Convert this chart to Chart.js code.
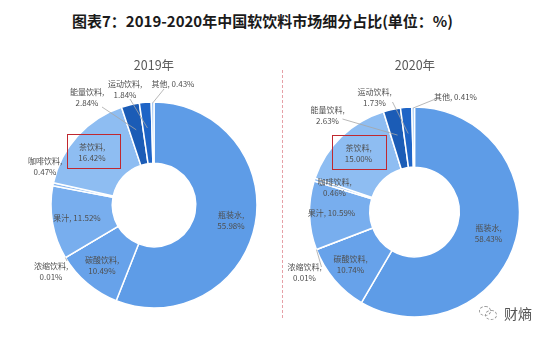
<!DOCTYPE html>
<html><head><meta charset="utf-8">
<script src="https://cdn.jsdelivr.net/npm/chart.js@4.4.1/dist/chart.umd.min.js"></script>
<style>
body{margin:0;width:550px;height:337px;background:#fff;position:relative;overflow:hidden;font-family:"Noto Sans CJK SC","Noto Sans",sans-serif;}
#title{position:absolute;left:72px;top:11px;font-size:15px;font-weight:bold;color:#1a1a1a;white-space:nowrap;line-height:20px;}
.sub{position:absolute;top:56px;font-size:12.5px;color:#595959;width:100px;text-align:center;line-height:18px}
canvas{position:absolute;top:0}
#c1{left:0}
#c2{left:283px}
#divider{position:absolute;left:282px;top:70px;height:248px;border-left:1px dashed #E6A0A6}
.box{position:absolute;border:1.5px solid #C0282F;box-sizing:border-box}
#logo{position:absolute;left:504px;top:304px;font-size:14px;color:#555;line-height:18px}
.bub{position:absolute;border:1px dashed #999;border-radius:50%}
</style></head>
<body>
<div id="title">图表7：2019-2020年中国软饮料市场细分占比(单位：%)</div>
<canvas id="c1" width="283" height="337"></canvas>
<canvas id="c2" width="267" height="337"></canvas>
<div class="sub" id="s1" style="left:104px"></div>
<div class="sub" id="s2" style="left:365px"></div>
<div id="divider"></div>
<div class="box" style="left:67px;top:134px;width:54px;height:35px"></div>
<div class="box" style="left:332px;top:135px;width:55px;height:35px"></div>
<div class="bub" style="left:479px;top:306px;width:10px;height:8px"></div>
<div class="bub" style="left:485px;top:310px;width:10px;height:8px"></div>
<div id="logo">财熵</div>
<script>
const categories = ['瓶装水','碳酸饮料','浓缩饮料','果汁','咖啡饮料','茶饮料','能量饮料','运动饮料','其他'];
const values2019 = [55.98,10.49,0.01,11.52,0.47,16.42,2.84,1.84,0.43];
const values2020 = [58.43,10.74,0.01,10.59,0.46,15.00,2.63,1.73,0.41];
const years = ['2019年','2020年'];

document.getElementById('s1').textContent = years[0];
document.getElementById('s2').textContent = years[1];

const sliceColors = ['#5E9CE7','#67A2EA','#74ABEC','#78AEEE','#8AB9F1','#8EBDF2','#1B5CB6','#1E64C6','#A2C8F5'];
const singleLine = [false,false,false,true,false,false,false,false,true];

// label block centres relative to donut centre (layout only)
const layout2019 = [[77,15],[-52,60],[-103,66],[-77,13],[-109,-39],[-62,-53],[-67,-108],[-29,-116],[19,-121]];
const layout2020 = [[74,21],[-64,52],[-110,60],[-83,1],[-80,-25],[-56,-59],[-87,-97],[-40,-115],[41,-115]];
// leader lines: index -> [startDx,startDy, radiusFraction]
const leaders2019 = {2:[-87,56,1.0],6:[-52,-98,0.75],7:[-24,-106,0.75],8:[10,-116,0.99]};
const leaders2020 = {2:[-93,55,1.0],6:[-72,-93,0.75],7:[-22,-110,0.75],8:[21,-113,0.99]};

function labelPlugin(values, layout, leaders){
  return {
    id:'sliceLabels',
    afterDraw(chart){
      const ctx = chart.ctx;
      const arcs = chart.getDatasetMeta(0).data;
      const cx = arcs[0].x, cy = arcs[0].y;
      ctx.save();
      ctx.strokeStyle = '#A6A6A6';
      ctx.lineWidth = 0.8;
      Object.keys(leaders).forEach(k=>{
        const a = arcs[k]; const L = leaders[k];
        const mid = (a.startAngle + a.endAngle)/2;
        const r = a.outerRadius * L[2];
        ctx.beginPath();
        ctx.moveTo(cx+L[0], cy+L[1]);
        ctx.lineTo(cx+Math.cos(mid)*r, cy+Math.sin(mid)*r);
        ctx.stroke();
      });
      ctx.font = '8px "Noto Sans CJK SC", sans-serif';
      ctx.textAlign = 'center';
      ctx.textBaseline = 'middle';
      categories.forEach((c,i)=>{
        const x = cx + layout[i][0], y = cy + layout[i][1];
        const v = values[i].toFixed(2) + '%';
        ctx.fillStyle = '#4f4f4f';
        if (singleLine[i]) {
          ctx.fillText(c + ', ' + v, x, y);
        } else {
          ctx.fillText(c + ',', x, y - 5.5);
          ctx.fillText(v, x, y + 5.5);
        }
      });
      ctx.restore();
    }
  };
}

function makeChart(id, values, radius, cutout, padding, layout, leaders){
  return new Chart(document.getElementById(id), {
    type:'doughnut',
    data:{labels:categories, datasets:[{data:values, backgroundColor:sliceColors, borderColor:'#ffffff', borderWidth:1.5}]},
    options:{
      responsive:false, animation:false, devicePixelRatio:1,
      radius:radius, cutout:cutout,
      layout:{padding:padding},
      plugins:{legend:{display:false}, tooltip:{enabled:false}}
    },
    plugins:[labelPlugin(values, layout, leaders)]
  });
}

makeChart('c1', values2019, 103, 52, {left:25,right:0,top:73,bottom:0}, layout2019, leaders2019);
makeChart('c2', values2020, 105, 53, {left:0,right:4,top:87,bottom:0}, layout2020, leaders2020);
</script>
</body></html>
